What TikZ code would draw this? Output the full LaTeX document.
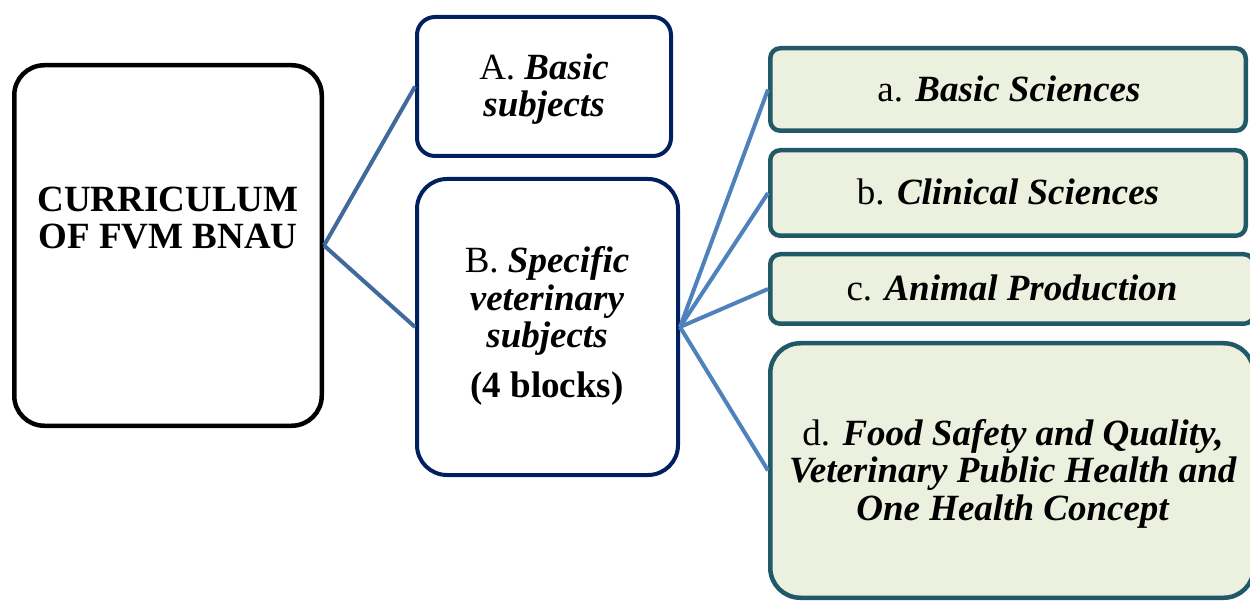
\documentclass[tikz,border=0pt]{standalone}
\usepackage{fontspec}
\setmainfont{Liberation Serif}
\definecolor{navy}{HTML}{002060}
\definecolor{tealb}{HTML}{215968}
\definecolor{greenf}{HTML}{EBF1DE}
\definecolor{linkA}{HTML}{40699C}
\definecolor{linkB}{HTML}{4F81BD}
\tikzset{
  mainbox/.style={draw=black, line width=4.5pt, rounded corners=30pt, fill=white, inner sep=0pt},
  navybox/.style={draw=navy, line width=4pt, fill=white, inner sep=0pt},
  greenbox/.style={draw=tealb, line width=4.5pt, fill=greenf, inner sep=0pt},
  boxtext/.style={align=center, inner sep=0pt, anchor=base, font=\fontsize{37}{37.5}\selectfont},
  linkmain/.style={draw=linkA, line width=4pt},
  linksub/.style={draw=linkB, line width=4pt}
}
\begin{document}
\begin{tikzpicture}[x=1pt, y=-1pt]
\useasboundingbox (0,0) rectangle (1250,601);
% boxes
\node[mainbox, minimum width=307.5pt, minimum height=360.5pt] (main) at (168,245.5) {};
\node[navybox, rounded corners=18pt, minimum width=254pt, minimum height=139pt] (A) at (544,86.5) {};
\node[navybox, rounded corners=30pt, minimum width=261pt, minimum height=296pt] (B) at (547.5,327) {};
\node[greenbox, rounded corners=10pt, minimum width=475.5pt, minimum height=82.5pt] (ga) at (1008,89.5) {};
\node[greenbox, rounded corners=10pt, minimum width=475.5pt, minimum height=85.5pt] (gb) at (1008,193) {};
\node[greenbox, rounded corners=10pt, minimum width=483.5pt, minimum height=69.5pt] (gc) at (1012,289) {};
\node[greenbox, rounded corners=30pt, minimum width=483.5pt, minimum height=254.5pt] (gd) at (1012,470.5) {};
% connectors
\draw[linkmain] (main.east) -- (A.west);
\draw[linkmain] (main.east) -- (B.west);
\draw[linksub] (B.east) -- (ga.west);
\draw[linksub] (B.east) -- (gb.west);
\draw[linksub] (B.east) -- (gc.west);
\draw[linksub] (B.east) -- (gd.west);
% texts (anchor = baseline of the last line)
\node[boxtext] (tmain) at (168,249) {\bfseries CURRICULUM\\\bfseries OF FVM BNAU};
\node[boxtext] (tA) at (544,117) {A. \textbf{\textit{Basic}}\\\textbf{\textit{subjects}}};
\node[boxtext] (tB) at (547,397) {B. \textbf{\textit{Specific}}\\\textbf{\textit{veterinary}}\\\textbf{\textit{subjects}}\\[12pt]\textbf{(4 blocks)}};
\node[boxtext] (ta) at (1009,102) {a. \textbf{\textit{Basic Sciences}}};
\node[boxtext] (tb) at (1008,205) {b. \textbf{\textit{Clinical Sciences}}};
\node[boxtext] (tc) at (1012,301) {c. \textbf{\textit{Animal Production}}};
\node[boxtext] (td) at (1013,520) {d. \textbf{\textit{Food Safety and Quality,}}\\\textbf{\textit{Veterinary Public Health and}}\\\textbf{\textit{One Health Concept}}};
\end{tikzpicture}
\end{document}
